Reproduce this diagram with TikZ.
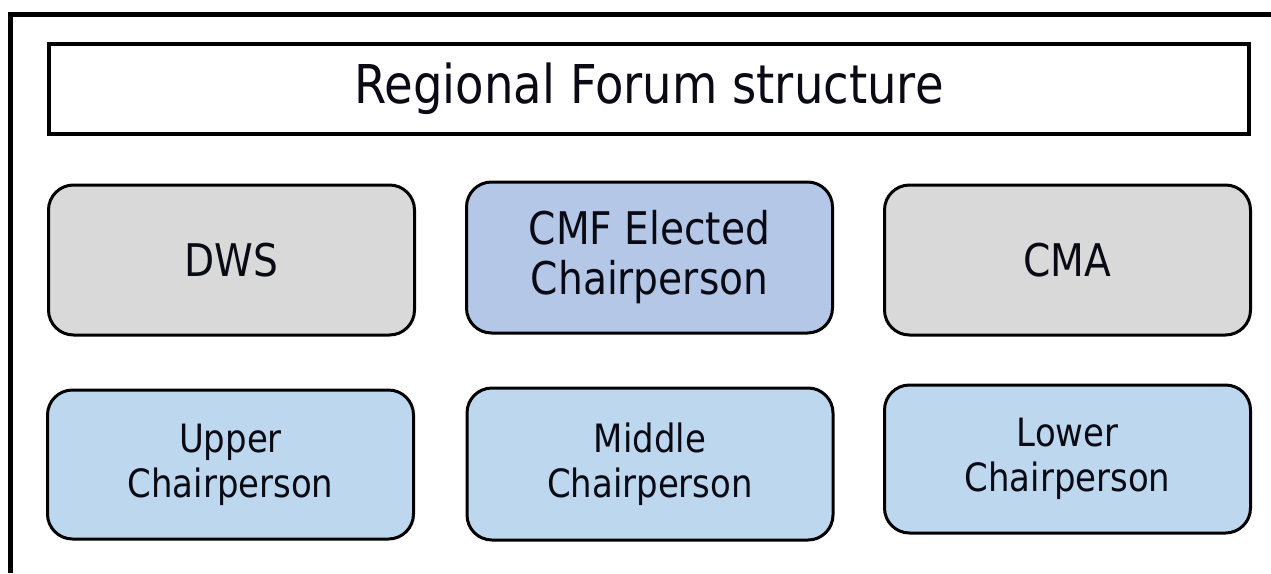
\documentclass[tikz,border=0pt]{standalone}
\usepackage{fontspec}
\setmainfont{DejaVu Sans}[FakeStretch=0.87]
\definecolor{boxgray}{HTML}{D9D9D9}
\definecolor{boxlav}{HTML}{B4C7E7}
\definecolor{boxblue}{HTML}{BDD7EE}
\definecolor{txt}{HTML}{0A0A14}
\begin{document}
\begin{tikzpicture}[x=1pt,y=-1pt,
  titlebox/.style={draw=black,line width=4pt,fill=white,minimum width=1200pt,minimum height=90pt,inner sep=0pt,text=txt,font=\fontsize{53.5}{58}\selectfont},
  topbox/.style={draw=black,line width=3pt,rounded corners=25pt,minimum width=366pt,minimum height=150pt,inner sep=0pt,align=center,text=txt,font=\fontsize{45}{50}\selectfont},
  lowbox/.style={draw=black,line width=3pt,rounded corners=25pt,fill=boxblue,minimum width=366pt,minimum height=150pt,inner sep=0pt,align=center,text=txt,font=\fontsize{39}{45}\selectfont},
  framelines/.style={line width=5pt,line join=miter}]
\useasboundingbox (0,0) rectangle (1271,573);
\fill[white] (0,0) rectangle (1271,573);
\coordinate (fb) at (10.5,573);
\coordinate (fc) at (10.5,14.5);
\coordinate (fr) at (1271,14.5);
\draw[framelines] (fb) -- (fc) -- (fr);
\node[titlebox] (title) at (649,89) {Regional Forum structure};
\node[topbox,fill=boxgray] (dws) at (231.5,260) {DWS};
\node[topbox,fill=boxlav,minimum height=151pt] (cmf) at (649.5,257.5) {CMF Elected\\Chairperson};
\node[topbox,fill=boxgray] (cma) at (1067.5,260) {CMA};
\node[lowbox,minimum height=149pt] (upper) at (230.5,464.5) {Upper\\Chairperson};
\node[lowbox,minimum height=152pt] (middle) at (650,464) {Middle\\Chairperson};
\node[lowbox,minimum height=148pt] (lower) at (1067.5,459) {Lower\\Chairperson};
\end{tikzpicture}
\end{document}
